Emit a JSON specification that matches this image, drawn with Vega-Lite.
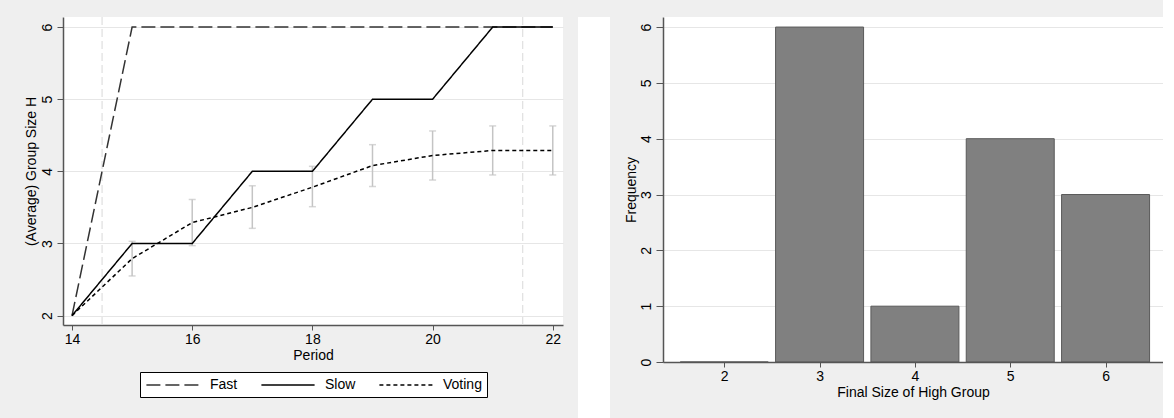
{
  "$schema": "https://vega.github.io/schema/vega-lite/v6.json",
  "padding": {"left": 24, "top": 16, "right": 0, "bottom": 0},
  "background": "#efefef",
  "spacing": 14,
  "config": {
    "font": "Liberation Sans",
    "view": {"stroke": null, "fill": "white"},
    "axis": {
      "labelFont": "Liberation Sans", "titleFont": "Liberation Sans",
      "labelFontSize": 14, "titleFontSize": 14, "titleFontWeight": "normal",
      "labelColor": "black", "titleColor": "black",
      "domainColor": "#555555", "tickColor": "#555555", "domainWidth": 1.5, "tickWidth": 1,
      "gridColor": "#e6e6e6", "gridWidth": 1.2
    },
    "legend": {"labelFont": "Liberation Sans", "labelFontSize": 14, "labelColor": "black"}
  },
  "datasets": {
    "lines": [
      {"series": "Fast", "period": 14, "value": 2},
      {"series": "Fast", "period": 15, "value": 6},
      {"series": "Fast", "period": 16, "value": 6},
      {"series": "Fast", "period": 17, "value": 6},
      {"series": "Fast", "period": 18, "value": 6},
      {"series": "Fast", "period": 19, "value": 6},
      {"series": "Fast", "period": 20, "value": 6},
      {"series": "Fast", "period": 21, "value": 6},
      {"series": "Fast", "period": 22, "value": 6},
      {"series": "Slow", "period": 14, "value": 2},
      {"series": "Slow", "period": 15, "value": 3},
      {"series": "Slow", "period": 16, "value": 3},
      {"series": "Slow", "period": 17, "value": 4},
      {"series": "Slow", "period": 18, "value": 4},
      {"series": "Slow", "period": 19, "value": 5},
      {"series": "Slow", "period": 20, "value": 5},
      {"series": "Slow", "period": 21, "value": 6},
      {"series": "Slow", "period": 22, "value": 6},
      {"series": "Voting", "period": 14, "value": 2},
      {"series": "Voting", "period": 15, "value": 2.79},
      {"series": "Voting", "period": 16, "value": 3.29},
      {"series": "Voting", "period": 17, "value": 3.5},
      {"series": "Voting", "period": 18, "value": 3.78},
      {"series": "Voting", "period": 19, "value": 4.08},
      {"series": "Voting", "period": 20, "value": 4.22},
      {"series": "Voting", "period": 21, "value": 4.29},
      {"series": "Voting", "period": 22, "value": 4.29}
    ],
    "ci": [
      {"period": 15, "lo": 2.55, "hi": 3.03},
      {"period": 16, "lo": 2.97, "hi": 3.61},
      {"period": 17, "lo": 3.21, "hi": 3.8},
      {"period": 18, "lo": 3.51, "hi": 4.07},
      {"period": 19, "lo": 3.79, "hi": 4.37},
      {"period": 20, "lo": 3.88, "hi": 4.56},
      {"period": 21, "lo": 3.95, "hi": 4.63},
      {"period": 22, "lo": 3.95, "hi": 4.63}
    ],
    "refs": [{"period": 14.5}, {"period": 21.5}],
    "bars": [
      {"size": 2, "freq": 0},
      {"size": 3, "freq": 6},
      {"size": 4, "freq": 1},
      {"size": 5, "freq": 4},
      {"size": 6, "freq": 3}
    ],
    "blank": [{}]
  },
  "hconcat": [
    {
      "width": 500,
      "height": 308,
      "layer": [
        {
          "data": {"name": "refs"},
          "mark": {"type": "rule", "color": "#d9d9d9", "strokeDash": [8, 4], "strokeWidth": 1},
          "encoding": {
            "x": {"field": "period", "type": "quantitative", "title": "Period",
                  "scale": {"domain": [13.85, 22.17], "nice": false, "zero": false},
                  "axis": {"values": [14, 16, 18, 20, 22], "format": "d", "grid": false, "tickSize": 5, "labelPadding": 2, "titlePadding": 2}}
          }
        },
        {
          "data": {"name": "ci"},
          "mark": {"type": "errorbar", "color": "#c4c4c4", "thickness": 1.5, "ticks": {"size": 7}},
          "encoding": {
            "x": {"field": "period", "type": "quantitative", "title": "Period"},
            "y": {"field": "lo", "type": "quantitative", "title": "(Average) Group Size H",
                  "scale": {"domain": [1.87, 6.14], "nice": false, "zero": false},
                  "axis": {"values": [2, 3, 4, 5, 6], "labelAngle": -90, "grid": true, "tickSize": 6, "labelPadding": 3, "titlePadding": 2, "format": "d"}},
            "y2": {"field": "hi"}
          }
        },
        {
          "data": {"name": "lines"},
          "mark": {"type": "line", "strokeWidth": 1.5},
          "encoding": {
            "x": {"field": "period", "type": "quantitative", "title": "Period"},
            "y": {"field": "value", "type": "quantitative", "title": "(Average) Group Size H"},
            "strokeDash": {"field": "series", "type": "nominal",
              "scale": {"domain": ["Fast", "Slow", "Voting"], "range": [[14, 5], [1, 0], [4, 3]]},
              "legend": {"title": null, "orient": "none", "legendX": 77, "legendY": 355, "direction": "horizontal",
                         "symbolType": "M-3.8,0H3.8", "symbolSize": 196, "symbolStrokeWidth": 1.5, "symbolOffset": 20,
                         "labelOffset": 29, "columnPadding": 20, "padding": 5,
                         "strokeColor": "black", "fillColor": "white"}},
            "color": {"field": "series", "type": "nominal",
              "scale": {"domain": ["Fast", "Slow", "Voting"], "range": ["#333333", "#000000", "#000000"]},
              "legend": {"title": null, "orient": "none", "legendX": 77, "legendY": 355, "direction": "horizontal",
                         "symbolType": "M-3.8,0H3.8", "symbolSize": 196, "symbolStrokeWidth": 1.5, "symbolOffset": 20,
                         "labelOffset": 29, "columnPadding": 20, "padding": 5,
                         "strokeColor": "black", "fillColor": "white"}}
          }
        }
      ]
    },
    {
      "width": 32,
      "height": 402,
      "view": {"fill": "white", "stroke": null},
      "data": {"name": "blank"},
      "mark": {"type": "rule", "opacity": 0},
      "encoding": {}
    },
    {
      "width": 500,
      "height": 345,
      "data": {"name": "bars"},
      "mark": {"type": "bar", "color": "#808080", "stroke": "#5a5a5a", "strokeWidth": 1, "width": 88},
      "encoding": {
        "x": {"field": "size", "type": "quantitative", "title": "Final Size of High Group",
              "scale": {"domain": [1.41, 6.55], "nice": false, "zero": false},
              "axis": {"values": [2, 3, 4, 5, 6], "format": "d", "grid": false, "tickSize": 5, "labelPadding": 2, "titlePadding": 2, "zindex": 1}},
        "y": {"field": "freq", "type": "quantitative", "title": "Frequency",
              "scale": {"domain": [0, 6.18], "nice": false},
              "axis": {"values": [0, 1, 2, 3, 4, 5, 6], "labelAngle": -90, "grid": true, "tickSize": 7, "labelPadding": 3, "titlePadding": 1, "format": "d"}}
      }
    }
  ]
}
